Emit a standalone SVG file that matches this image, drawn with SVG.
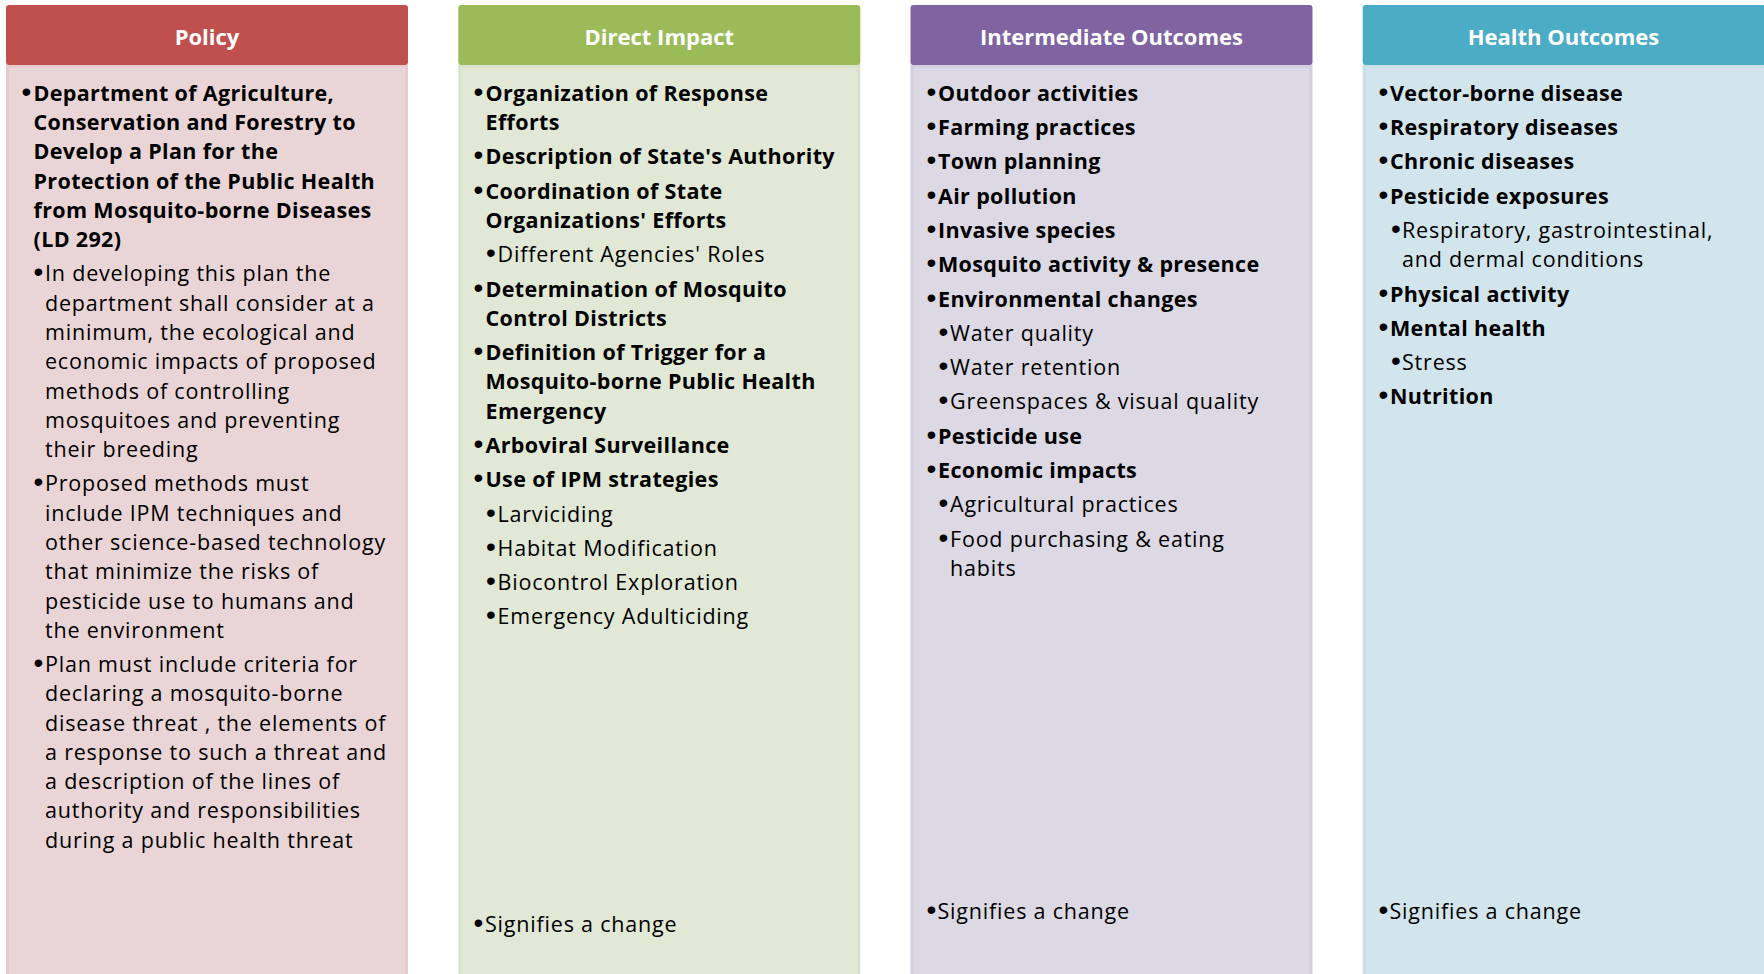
<svg xmlns="http://www.w3.org/2000/svg" width="1764" height="974" viewBox="0 0 1764 974">
<style>
text{font-family:"Open Sans","DejaVu Sans",sans-serif;fill:#000;font-size:21.5px;letter-spacing:0.8px}
.h{font-size:22px;font-weight:bold;fill:#fff;text-anchor:middle;letter-spacing:0}
.b{font-weight:bold;letter-spacing:0.35px}
.u{font-family:"Liberation Sans",Arial,sans-serif;font-size:28px;font-weight:normal;letter-spacing:0}
.hd{stroke:none}
.bd{stroke-width:3}
</style>
<rect width="1764" height="974" fill="#fff"/>
<g id="policy">
<rect class="bd" x="7.5" y="66" width="399" height="912" fill="#EAD5D6" stroke="#E4CBCC"/>
<rect class="hd" x="6" y="5" width="402" height="60" rx="3" fill="#C0504D"/>
<text class="h" x="207" y="45">Policy</text>
<text class="b"><tspan class="u" x="21.5" y="100.7">•</tspan><tspan x="33.5" y="100.7">Department of Agriculture,</tspan><tspan x="33.5" y="130">Conservation and Forestry to</tspan><tspan x="33.5" y="159.3">Develop a Plan for the</tspan><tspan x="33.5" y="188.5">Protection of the Public Health</tspan><tspan x="33.5" y="217.8">from Mosquito-borne Diseases</tspan><tspan x="33.5" y="247.1">(LD 292)</tspan></text>
<text><tspan class="u" x="33.5" y="281.4">•</tspan><tspan x="45" y="281.4">In developing this plan the</tspan><tspan x="45" y="310.7">department shall consider at a</tspan><tspan x="45" y="340">minimum, the ecological and</tspan><tspan x="45" y="369.2">economic impacts of proposed</tspan><tspan x="45" y="398.5">methods of controlling</tspan><tspan x="45" y="427.8">mosquitoes and preventing</tspan><tspan x="45" y="457.1">their breeding</tspan></text>
<text><tspan class="u" x="33.5" y="491.4">•</tspan><tspan x="45" y="491.4">Proposed methods must</tspan><tspan x="45" y="520.7">include IPM techniques and</tspan><tspan x="45" y="549.9">other science-based technology</tspan><tspan x="45" y="579.2">that minimize the risks of</tspan><tspan x="45" y="608.5">pesticide use to humans and</tspan><tspan x="45" y="637.8">the environment</tspan></text>
<text><tspan class="u" x="33.5" y="672.1">•</tspan><tspan x="45" y="672.1">Plan must include criteria for</tspan><tspan x="45" y="701.3">declaring a mosquito-borne</tspan><tspan x="45" y="730.6">disease threat , the elements of</tspan><tspan x="45" y="759.9">a response to such a threat and</tspan><tspan x="45" y="789.2">a description of the lines of</tspan><tspan x="45" y="818.4">authority and responsibilities</tspan><tspan x="45" y="847.7">during a public health threat</tspan></text>
</g>
<g id="direct-impact">
<rect class="bd" x="459.8" y="66" width="399" height="912" fill="#E1E8D5" stroke="#D9E2CA"/>
<rect class="hd" x="458.3" y="5" width="402" height="60" rx="3" fill="#9BBB59"/>
<text class="h" x="659.3" y="45">Direct Impact</text>
<text class="b"><tspan class="u" x="473.5" y="100.7">•</tspan><tspan x="485.5" y="100.7">Organization of Response</tspan><tspan x="485.5" y="130">Efforts</tspan></text>
<text class="b"><tspan class="u" x="473.5" y="164.3">•</tspan><tspan x="485.5" y="164.3">Description of State's Authority</tspan></text>
<text class="b"><tspan class="u" x="473.5" y="198.6">•</tspan><tspan x="485.5" y="198.6">Coordination of State</tspan><tspan x="485.5" y="227.9">Organizations' Efforts</tspan></text>
<text><tspan class="u" x="486" y="262.2">•</tspan><tspan x="497.5" y="262.2">Different Agencies' Roles</tspan></text>
<text class="b"><tspan class="u" x="473.5" y="296.5">•</tspan><tspan x="485.5" y="296.5">Determination of Mosquito</tspan><tspan x="485.5" y="325.8">Control Districts</tspan></text>
<text class="b"><tspan class="u" x="473.5" y="360.1">•</tspan><tspan x="485.5" y="360.1">Definition of Trigger for a</tspan><tspan x="485.5" y="389.4">Mosquito-borne Public Health</tspan><tspan x="485.5" y="418.6">Emergency</tspan></text>
<text class="b"><tspan class="u" x="473.5" y="452.9">•</tspan><tspan x="485.5" y="452.9">Arboviral Surveillance</tspan></text>
<text class="b"><tspan class="u" x="473.5" y="487.2">•</tspan><tspan x="485.5" y="487.2">Use of IPM strategies</tspan></text>
<text><tspan class="u" x="486" y="521.5">•</tspan><tspan x="497.5" y="521.5">Larviciding</tspan></text>
<text><tspan class="u" x="486" y="555.8">•</tspan><tspan x="497.5" y="555.8">Habitat Modification</tspan></text>
<text><tspan class="u" x="486" y="590.1">•</tspan><tspan x="497.5" y="590.1">Biocontrol Exploration</tspan></text>
<text><tspan class="u" x="486" y="624.4">•</tspan><tspan x="497.5" y="624.4">Emergency Adulticiding</tspan></text>
<text><tspan class="u" x="473.5" y="932">•</tspan><tspan x="485" y="932">Signifies a change</tspan></text>
</g>
<g id="intermediate-outcomes">
<rect class="bd" x="912" y="66" width="399" height="912" fill="#DCD8E4" stroke="#D4CEDF"/>
<rect class="hd" x="910.5" y="5" width="402" height="60" rx="3" fill="#8064A2"/>
<text class="h" x="1111.5" y="45">Intermediate Outcomes</text>
<text class="b"><tspan class="u" x="926.5" y="100.7">•</tspan><tspan x="938" y="100.7">Outdoor activities</tspan></text>
<text class="b"><tspan class="u" x="926.5" y="135">•</tspan><tspan x="938" y="135">Farming practices</tspan></text>
<text class="b"><tspan class="u" x="926.5" y="169.3">•</tspan><tspan x="938" y="169.3">Town planning</tspan></text>
<text class="b"><tspan class="u" x="926.5" y="203.6">•</tspan><tspan x="938" y="203.6">Air pollution</tspan></text>
<text class="b"><tspan class="u" x="926.5" y="237.9">•</tspan><tspan x="938" y="237.9">Invasive species</tspan></text>
<text class="b"><tspan class="u" x="926.5" y="272.2">•</tspan><tspan x="938" y="272.2">Mosquito activity &amp; presence</tspan></text>
<text class="b"><tspan class="u" x="926.5" y="306.5">•</tspan><tspan x="938" y="306.5">Environmental changes</tspan></text>
<text><tspan class="u" x="938.5" y="340.8">•</tspan><tspan x="950" y="340.8">Water quality</tspan></text>
<text><tspan class="u" x="938.5" y="375.1">•</tspan><tspan x="950" y="375.1">Water retention</tspan></text>
<text><tspan class="u" x="938.5" y="409.4">•</tspan><tspan x="950" y="409.4">Greenspaces &amp; visual quality</tspan></text>
<text class="b"><tspan class="u" x="926.5" y="443.7">•</tspan><tspan x="938" y="443.7">Pesticide use</tspan></text>
<text class="b"><tspan class="u" x="926.5" y="478">•</tspan><tspan x="938" y="478">Economic impacts</tspan></text>
<text><tspan class="u" x="938.5" y="512.3">•</tspan><tspan x="950" y="512.3">Agricultural practices</tspan></text>
<text><tspan class="u" x="938.5" y="546.6">•</tspan><tspan x="950" y="546.6">Food purchasing &amp; eating</tspan><tspan x="950" y="575.9">habits</tspan></text>
<text><tspan class="u" x="926.5" y="918.5">•</tspan><tspan x="937.5" y="918.5">Signifies a change</tspan></text>
</g>
<g id="health-outcomes">
<rect class="bd" x="1364.2" y="66" width="401" height="912" fill="#D3E5EC" stroke="#CADFE8"/>
<rect class="hd" x="1362.7" y="5" width="403" height="60" rx="3" fill="#4BACC6"/>
<text class="h" x="1563.5" y="45">Health Outcomes</text>
<text class="b"><tspan class="u" x="1378.5" y="100.7">•</tspan><tspan x="1390" y="100.7">Vector-borne disease</tspan></text>
<text class="b"><tspan class="u" x="1378.5" y="135">•</tspan><tspan x="1390" y="135">Respiratory diseases</tspan></text>
<text class="b"><tspan class="u" x="1378.5" y="169.3">•</tspan><tspan x="1390" y="169.3">Chronic diseases</tspan></text>
<text class="b"><tspan class="u" x="1378.5" y="203.6">•</tspan><tspan x="1390" y="203.6">Pesticide exposures</tspan></text>
<text><tspan class="u" x="1391" y="237.9">•</tspan><tspan x="1402" y="237.9">Respiratory, gastrointestinal,</tspan><tspan x="1402" y="267.2">and dermal conditions</tspan></text>
<text class="b"><tspan class="u" x="1378.5" y="301.5">•</tspan><tspan x="1390" y="301.5">Physical activity</tspan></text>
<text class="b"><tspan class="u" x="1378.5" y="335.8">•</tspan><tspan x="1390" y="335.8">Mental health</tspan></text>
<text><tspan class="u" x="1391" y="370.1">•</tspan><tspan x="1402" y="370.1">Stress</tspan></text>
<text class="b"><tspan class="u" x="1378.5" y="404.4">•</tspan><tspan x="1390" y="404.4">Nutrition</tspan></text>
<text><tspan class="u" x="1378.5" y="918.5">•</tspan><tspan x="1389.5" y="918.5">Signifies a change</tspan></text>
</g>
</svg>
